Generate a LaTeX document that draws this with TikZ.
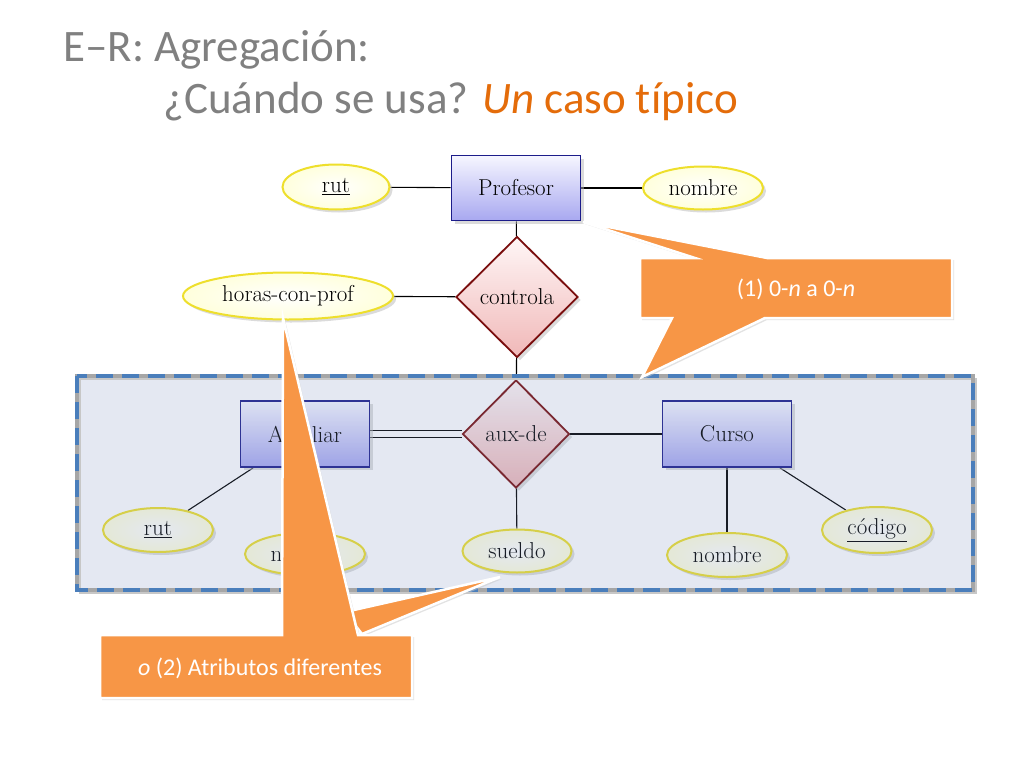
\documentclass[tikz,border=0pt]{standalone}
\usepackage{fontspec}
\newfontfamily\slidefont[Ligatures=NoCommon]{Carlito}
\usetikzlibrary{shapes.geometric,shadows}
\definecolor{entborder}{HTML}{1C1C8A}
\definecolor{enttop}{HTML}{F6F6FF}
\definecolor{entbottom}{HTML}{A8A8F0}
\definecolor{relborder}{HTML}{7A0E0E}
\definecolor{reltop}{HTML}{FFF6F6}
\definecolor{relbottom}{HTML}{F0B8B8}
\definecolor{attborder}{HTML}{EEDF2C}
\definecolor{attfill}{HTML}{FFFFDC}
\definecolor{aggfill}{HTML}{7890C0}
\definecolor{aggdash}{HTML}{4A7EBB}
\definecolor{callout}{HTML}{F79646}
\definecolor{titlegray}{HTML}{808080}
\definecolor{titleorange}{HTML}{E46C0A}
\pgfdeclarelayer{fondo}
\pgfdeclarelayer{edges}
\pgfsetlayers{fondo,edges,main}

\begin{document}
\begin{tikzpicture}[x=1pt,y=-1pt,
  every node/.style={font=\fontsize{23}{26}\selectfont},
  sombra/.style={drop shadow={shadow xshift=3pt,shadow yshift=-3pt,fill=black!28}},
  entidad/.style={rectangle,draw=entborder,line width=1.8pt,top color=enttop,bottom color=entbottom,minimum width=129pt,minimum height=65pt,inner sep=0pt,sombra},
  relacion/.style={diamond,draw=relborder,line width=1.8pt,top color=reltop,bottom color=relbottom,aspect=1,inner sep=0pt,sombra},
  atributo/.style={ellipse,draw=attborder,line width=2pt,inner color=white,outer color=attfill,inner sep=0pt,sombra},
  linea/.style={line width=1.1pt},
  nota/.style={fill=callout,draw=white,line width=2.5pt,line join=miter,drop shadow={shadow xshift=2pt,shadow yshift=-2pt,fill=black!22}},
  notatexto/.style={text=white,font=\slidefont\fontsize{24}{28}\selectfont}]
   \begin{pgfonlayer}{fondo}
   \fill[white] (0,0) rectangle (1024,768);
   \end{pgfonlayer}
   \useasboundingbox (0,0) rectangle (1024,768);
   \node[anchor=base west,text=titlegray,font=\slidefont\fontsize{45}{50}\selectfont] (titulo) at (60,62) {E–R: Agregación:};
   \node[anchor=base west,text=titlegray,font=\slidefont\fontsize{45}{50}\selectfont] (subtitulo) at (160,113) {¿Cuándo se usa? \textcolor{titleorange}{\textit{Un} caso típico}};

   \node[entidad] (profesor) at (516,188) {Profesor};
   \node[atributo,minimum width=107pt,minimum height=45pt] (rutp) at (336,187) {\underline{rut}};
   \node[atributo,minimum width=120pt,minimum height=43pt] (nombrep) at (703,188) {nombre};
   \node[relacion,minimum width=122pt,minimum height=121pt] (controla) at (517,297) {controla};
   \node[atributo,minimum width=210pt,minimum height=47pt] (horas) at (288,296) {horas-con-prof};
   \node[entidad,minimum height=66pt] (auxiliar) at (305,434) {Auxiliar};
   \node[relacion,minimum width=107pt,minimum height=108pt] (auxde) at (516,434) {aux-de};
   \node[entidad,minimum height=66pt] (curso) at (727,434) {Curso};
   \node[atributo,minimum width=110pt,minimum height=44pt] (ruta) at (158,530) {\underline{rut}};
   \node[atributo,minimum width=120pt,minimum height=42pt] (nombrea) at (305,554) {nombre};
   \node[atributo,minimum width=109pt,minimum height=43pt] (sueldo) at (517,551) {sueldo};
   \node[atributo,minimum width=120pt,minimum height=44pt] (nombrec) at (727,555) {nombre};
   \node[atributo,minimum width=110pt,minimum height=46pt] (codigo) at (877,530) {\underline{código}};

   \begin{pgfonlayer}{edges}
   \draw[linea] (rutp) -- (profesor);
   \draw[linea] (profesor) -- (nombrep);
   \draw[linea] (profesor) -- (controla);
   \draw[linea] (horas) -- (controla);
   \draw[linea] (controla) -- (auxde);
   \draw[linea,double=white,double distance=6pt,line width=1pt] (auxiliar) -- (auxde);
   \draw[linea] (auxde) -- (curso);
   \draw[linea] (auxiliar) -- (ruta);
   \draw[linea] (auxiliar) -- (nombrea);
   \draw[linea] (auxde) -- (sueldo);
   \draw[linea] (curso) -- (nombrec);
   \draw[linea] (curso) -- (codigo);
   \end{pgfonlayer}

   \coordinate (aggNO) at (77,376);
   \coordinate (aggSE) at (973,590);
   \fill[aggfill,fill opacity=0.2] (aggNO) rectangle (aggSE);
   \draw[black!22,line width=2pt] ([shift={(3,3)}]aggNO) rectangle ([shift={(3,3)}]aggSE);
   \draw[black!35,line width=3.5pt] (aggNO) rectangle (aggSE);
   \draw[aggdash,line width=3.5pt,dash pattern=on 17pt off 9pt] (aggNO) rectangle (aggSE);

   \draw[nota] (640,258) -- (695,258) -- (583,222) -- (767,258) -- (952,258) -- (952,318) -- (765,318) -- (642,377) -- (672,318) -- (640,318) -- cycle;
   \node[notatexto] (nota1) at (796,289) {(1) 0-\textit{n} a 0-\textit{n}};

   \draw[nota] (345,612) -- (500,577) -- (362,634) -- cycle;
   \draw[nota] (100,635) -- (282,635) -- (283,318) -- (358,635) -- (412,635) -- (412,698) -- (100,698) -- cycle;
   \node[notatexto] (nota2) at (260,668) {\textit{o} (2) Atributos diferentes};
\end{tikzpicture}
\end{document}
